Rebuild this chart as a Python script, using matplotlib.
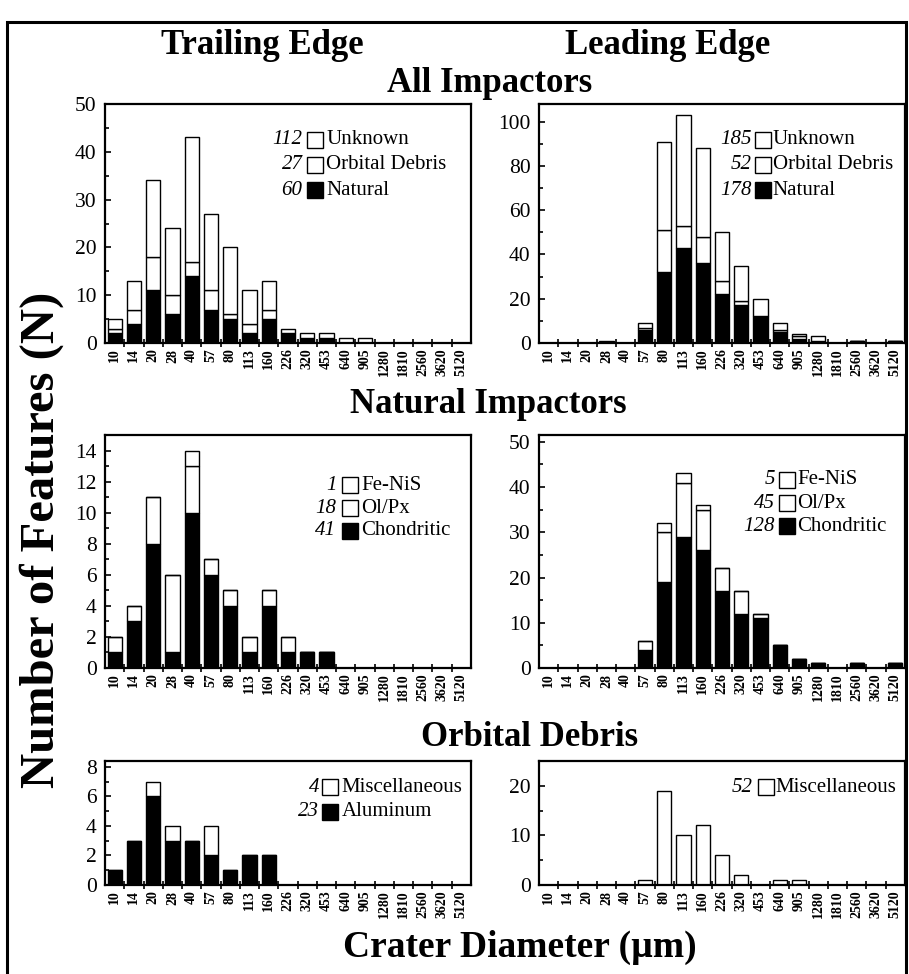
import matplotlib.pyplot as plt
from matplotlib.patches import Rectangle
from matplotlib.ticker import MultipleLocator, FixedLocator

plt.rcParams['font.family'] = ['Liberation Serif', 'DejaVu Serif']

# ----- Data -----
DIAMETERS = ["10", "14", "20", "28", "40", "57", "80", "113", "160", "226",
             "320", "453", "640", "905", "1280", "1810", "2560", "3620", "5120"]

# All impactors - trailing edge
trail_natural = [2, 4, 11, 6, 14, 7, 5, 2, 5, 2, 1, 1, 0, 0, 0, 0, 0, 0, 0]
trail_debris = [1, 3, 7, 4, 3, 4, 1, 2, 2, 0, 0, 0, 0, 0, 0, 0, 0, 0, 0]
trail_unknown = [2, 6, 16, 14, 26, 16, 14, 7, 6, 1, 1, 1, 1, 1, 0, 0, 0, 0, 0]

# All impactors - leading edge
lead_natural = [0, 0, 0, 0, 0, 6, 32, 43, 36, 22, 17, 12, 5, 2, 1, 0, 1, 0, 1]
lead_debris = [0, 0, 0, 0, 0, 1, 19, 10, 12, 6, 2, 0, 1, 1, 0, 0, 0, 0, 0]
lead_unknown = [0, 0, 0, 1, 0, 2, 40, 50, 40, 22, 16, 8, 3, 1, 2, 0, 0, 0, 0]

# Natural impactors - trailing edge
trail_chondritic = [1, 3, 8, 1, 10, 6, 4, 1, 4, 1, 1, 1, 0, 0, 0, 0, 0, 0, 0]
trail_olpx = [1, 1, 3, 5, 3, 1, 1, 1, 1, 1, 0, 0, 0, 0, 0, 0, 0, 0, 0]
trail_fenis = [0, 0, 0, 0, 1, 0, 0, 0, 0, 0, 0, 0, 0, 0, 0, 0, 0, 0, 0]

# Natural impactors - leading edge
lead_chondritic = [0, 0, 0, 0, 0, 4, 19, 29, 26, 17, 12, 11, 5, 2, 1, 0, 1, 0, 1]
lead_olpx = [0, 0, 0, 0, 0, 2, 11, 12, 9, 5, 5, 1, 0, 0, 0, 0, 0, 0, 0]
lead_fenis = [0, 0, 0, 0, 0, 0, 2, 2, 1, 0, 0, 0, 0, 0, 0, 0, 0, 0, 0]

# Orbital debris
trail_aluminum = [1, 3, 6, 3, 3, 2, 1, 2, 2, 0, 0, 0, 0, 0, 0, 0, 0, 0, 0]
trail_misc = [0, 0, 1, 1, 0, 2, 0, 0, 0, 0, 0, 0, 0, 0, 0, 0, 0, 0, 0]
lead_misc = [0, 0, 0, 0, 0, 1, 19, 10, 12, 6, 2, 0, 1, 1, 0, 0, 0, 0, 0]

fig = plt.figure(figsize=(9.09, 9.74), dpi=100)

# frame around the figure (open at the bottom)
fig.patches.append(Rectangle((7 / 909, -0.1), 899 / 909, 1.1 - 22 / 974,
                             transform=fig.transFigure, fill=False,
                             lw=2.2, ec='black'))

LEFT_X, RIGHT_X, COL_W = 105 / 909, 539 / 909, 366 / 909
ROWS = [(1 - 343 / 974, 239 / 974), (1 - 668 / 974, 233 / 974), (1 - 885 / 974, 124 / 974)]


def draw_panel(pos, layers, ylim, major, minor, legend, leg_x, leg_rows):
    ax = fig.add_axes(pos)
    x = list(range(len(DIAMETERS)))
    bottom = [0] * len(x)
    for vals, color in layers:
        ax.bar(x, vals, bottom=bottom, width=0.74, color=color,
               edgecolor='black', linewidth=1.0, zorder=2)
        bottom = [b + v for b, v in zip(bottom, vals)]
    ax.set_xlim(-0.5, len(x) - 0.5)
    ax.set_ylim(0, ylim)
    ax.yaxis.set_major_locator(MultipleLocator(major))
    ax.yaxis.set_minor_locator(MultipleLocator(minor))
    ax.set_xticks(x)
    ax.set_xticklabels(DIAMETERS, rotation=90, fontsize=10, fontweight='bold')
    ax.xaxis.set_minor_locator(FixedLocator([i + 0.5 for i in x[:-1]]))
    ax.tick_params(axis='x', which='major', length=0, pad=4)
    ax.tick_params(axis='x', which='minor', direction='inout', length=6, width=1.2)
    ax.tick_params(axis='y', which='both', direction='in', width=1.2, labelsize=15.5, pad=6)
    ax.tick_params(axis='y', which='major', length=4)
    ax.tick_params(axis='y', which='minor', length=3)
    for s in ax.spines.values():
        s.set_linewidth(1.6)
    # legend: italic count, box, label
    xn, xb, xt = leg_x
    for (count, label, color), yy in zip(legend, leg_rows):
        ax.text(xn, yy, str(count), transform=ax.transAxes, ha='right', va='center',
                fontsize=15, style='italic')
        ax.plot([xb], [yy], marker='s', ms=12, mfc=color, mec='black', mew=1.0,
                transform=ax.transAxes, clip_on=False)
        ax.text(xt, yy, label, transform=ax.transAxes, ha='left', va='center', fontsize=15)
    return ax


# All impactors
draw_panel([LEFT_X, ROWS[0][0], COL_W, ROWS[0][1]],
           [(trail_natural, 'black'), (trail_debris, 'white'), (trail_unknown, 'white')],
           50, 10, 5,
           [(112, 'Unknown', 'white'), (27, 'Orbital Debris', 'white'), (60, 'Natural', 'black')],
           (0.54, 0.575, 0.605), (0.85, 0.745, 0.64))
draw_panel([RIGHT_X, ROWS[0][0], COL_W, ROWS[0][1]],
           [(lead_natural, 'black'), (lead_debris, 'white'), (lead_unknown, 'white')],
           108, 20, 10,
           [(185, 'Unknown', 'white'), (52, 'Orbital Debris', 'white'), (178, 'Natural', 'black')],
           (0.582, 0.612, 0.639), (0.85, 0.745, 0.64))

# Natural impactors
draw_panel([LEFT_X, ROWS[1][0], COL_W, ROWS[1][1]],
           [(trail_chondritic, 'black'), (trail_olpx, 'white'), (trail_fenis, 'white')],
           15, 2, 1,
           [(1, 'Fe-NiS', 'white'), (18, 'Ol/Px', 'white'), (41, 'Chondritic', 'black')],
           (0.632, 0.67, 0.70), (0.785, 0.685, 0.59))
draw_panel([RIGHT_X, ROWS[1][0], COL_W, ROWS[1][1]],
           [(lead_chondritic, 'black'), (lead_olpx, 'white'), (lead_fenis, 'white')],
           51.5, 10, 5,
           [(5, 'Fe-NiS', 'white'), (45, 'Ol/Px', 'white'), (128, 'Chondritic', 'black')],
           (0.645, 0.678, 0.705), (0.807, 0.708, 0.609))

# Orbital debris
draw_panel([LEFT_X, ROWS[2][0], COL_W, ROWS[2][1]],
           [(trail_aluminum, 'black'), (trail_misc, 'white')],
           8.4, 2, 1,
           [(4, 'Miscellaneous', 'white'), (23, 'Aluminum', 'black')],
           (0.586, 0.616, 0.646), (0.79, 0.59))
draw_panel([RIGHT_X, ROWS[2][0], COL_W, ROWS[2][1]],
           [(lead_misc, 'white')],
           25, 10, 5,
           [(52, 'Miscellaneous', 'white')],
           (0.585, 0.62, 0.645), (0.79,))

# headings
title_kw = dict(ha='center', va='center', fontsize=25, fontweight='bold')
fig.text(262 / 909, 1 - 46 / 974, 'Trailing Edge', **title_kw)
fig.text(668 / 909, 1 - 46 / 974, 'Leading Edge', **title_kw)
fig.text(490 / 909, 1 - 84 / 974, 'All Impactors', **title_kw)
fig.text(488 / 909, 1 - 405 / 974, 'Natural Impactors', **title_kw)
fig.text(530 / 909, 1 - 738 / 974, 'Orbital Debris', **title_kw)
fig.text(520 / 909, 1 - 947 / 974, 'Crater Diameter (µm)', ha='center', va='center',
         fontsize=27, fontweight='bold')
fig.text(42 / 909, 1 - 540 / 974, 'Number of Features (N)', ha='center', va='center',
         rotation=90, fontsize=35, fontweight='bold')

fig.savefig('out.png', dpi=100)
